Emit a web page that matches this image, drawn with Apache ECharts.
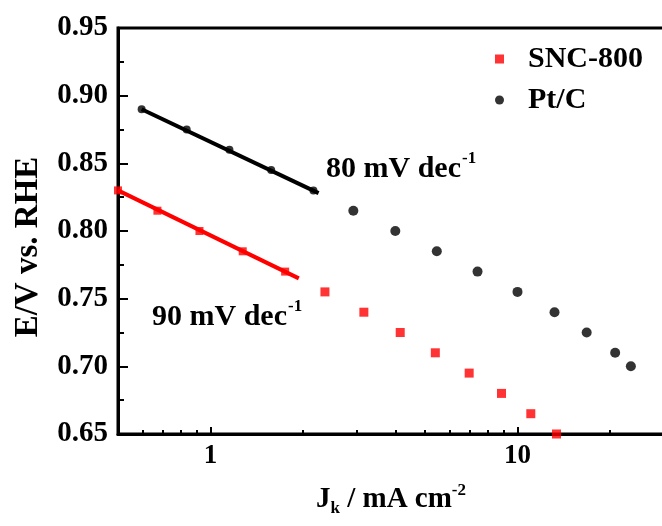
<!DOCTYPE html>
<html>
<head>
<meta charset="utf-8">
<script src="https://cdn.jsdelivr.net/npm/echarts@6/dist/echarts.min.js"></script>
<style>
  html, body { margin: 0; padding: 0; background: #fff; }
  #chart { width: 662px; height: 526px; }
</style>
</head>
<body>
<div id="chart"></div>
<script>
// tick values
const xMajorTicks = [1, 10];
const xMinorTicks = [0.6, 0.7, 0.8, 0.9, 2, 3, 4, 5, 6, 7, 8, 9, 20];

// SNC-800: points on the Tafel fit + remaining measured points
const sncFitJ = [0.50, 0.672, 0.921, 1.274, 1.751];
const sncFitE = [0.830, 0.815, 0.800, 0.785, 0.770];
const sncLineJ = [0.50, 1.94];
const sncLineE = [0.830, 0.765];
const sncJ = [2.36, 3.16, 4.15, 5.40, 6.96, 8.87, 11.05, 13.4];
const sncE = [0.755, 0.740, 0.725, 0.710, 0.695, 0.680, 0.665, 0.650];

// Pt/C
const ptFitJ = [0.597, 0.837, 1.153, 1.577, 2.165];
const ptFitE = [0.890, 0.875, 0.860, 0.845, 0.830];
const ptLineJ = [0.597, 2.25];
const ptLineE = [0.890, 0.828];
const ptJ = [2.92, 4.00, 5.46, 7.41, 10.0, 13.2, 16.8, 20.8, 23.4];
const ptE = [0.815, 0.800, 0.785, 0.770, 0.755, 0.740, 0.725, 0.710, 0.700];

const pairs = (xs, ys) => xs.map((x, i) => [x, ys[i]]);

const FONT = '"Liberation Serif", "Times New Roman", serif';
const RED = '#ff0000';

const chart = echarts.init(document.getElementById('chart'));

const option = {
  backgroundColor: '#fff',
  animation: false,
  grid: {
    left: 118, top: 28, right: -2, bottom: 92,
    outerBoundsMode: 'none',
    show: true, borderColor: '#000', borderWidth: 3, backgroundColor: 'transparent'
  },
  legend: {
    orient: 'vertical',
    left: 490, top: 39,
    itemWidth: 9, itemHeight: 9, itemGap: 11,
    data: ['SNC-800', 'Pt/C'],
    textStyle: {
      fontFamily: FONT, fontWeight: 'bold', fontSize: 30, color: '#000',
      lineHeight: 30, padding: [0, 0, 0, 19]
    }
  },
  xAxis: [
    {
      type: 'log', min: 0.5, max: 30,
      name: '{b|J}{sub|k}{b| / mA cm}{sup|-2}',
      nameLocation: 'middle', nameGap: 48,
      nameTextStyle: {
        rich: {
          b: { fontFamily: FONT, fontWeight: 'bold', fontSize: 29, color: '#000', lineHeight: 34 },
          sub: { fontFamily: FONT, fontWeight: 'bold', fontSize: 17, color: '#000', padding: [18, 0, 0, 0] },
          sup: { fontFamily: FONT, fontWeight: 'bold', fontSize: 17, color: '#000', padding: [0, 0, 18, 0] }
        }
      },
      axisLine: { show: true, lineStyle: { color: '#000', width: 3 } },
      axisTick: { show: true, inside: true, length: 7, customValues: xMajorTicks, lineStyle: { color: '#000', width: 2 } },
      axisLabel: {
        customValues: xMajorTicks, margin: 9,
        fontFamily: FONT, fontWeight: 'bold', fontSize: 27, color: '#000'
      },
      splitLine: { show: false }
    },
    {
      type: 'log', min: 0.5, max: 30, position: 'bottom',
      axisLine: { show: false },
      axisTick: { show: true, inside: true, length: 4, customValues: xMinorTicks, lineStyle: { color: '#000', width: 2 } },
      axisLabel: { show: false },
      splitLine: { show: false }
    }
  ],
  yAxis: {
    type: 'value', min: 0.65, max: 0.95, interval: 0.05,
    axisLine: { show: true, lineStyle: { color: '#000', width: 3 } },
    axisTick: { show: true, inside: true, length: 10, lineStyle: { color: '#000', width: 2 } },
    minorTick: { show: true, splitNumber: 2, length: 6, lineStyle: { color: '#000', width: 2 } },
    axisLabel: {
      margin: 10,
      formatter: v => v.toFixed(2),
      fontFamily: FONT, fontWeight: 'bold', fontSize: 29, color: '#000'
    },
    splitLine: { show: false }
  },
  graphic: [
    {
      type: 'text', x: 28, y: 247, rotation: Math.PI / 2,
      style: {
        text: 'E/V vs. RHE', textAlign: 'center', textVerticalAlign: 'middle',
        font: 'bold 33px ' + FONT, fill: '#000'
      }
    },
    {
      type: 'text', x: 326, y: 169,
      style: {
        text: '{a|80 mV dec}{s|-1}', textVerticalAlign: 'middle',
        rich: {
          a: { font: 'bold 30px ' + FONT, fill: '#000' },
          s: { font: 'bold 17px ' + FONT, fill: '#000', padding: [0, 0, 20, 1] }
        }
      }
    },
    {
      type: 'text', x: 152, y: 317,
      style: {
        text: '{a|90 mV dec}{s|-1}', textVerticalAlign: 'middle',
        rich: {
          a: { font: 'bold 30px ' + FONT, fill: '#000' },
          s: { font: 'bold 17px ' + FONT, fill: '#000', padding: [0, 0, 20, 1] }
        }
      }
    }
  ],
  series: [
    {
      name: 'SNC-fit', type: 'line', data: pairs(sncLineJ, sncLineE),
      showSymbol: false, lineStyle: { color: RED, width: 4 }, z: 3
    },
    {
      name: 'SNC-fit-pts', type: 'scatter', data: pairs(sncFitJ, sncFitE),
      symbol: 'rect', symbolSize: 8, itemStyle: { color: RED }, z: 4
    },
    {
      name: 'Pt-fit', type: 'line', data: pairs(ptLineJ, ptLineE),
      showSymbol: false, lineStyle: { color: '#000', width: 4 }, z: 3
    },
    {
      name: 'Pt-fit-pts', type: 'scatter', data: pairs(ptFitJ, ptFitE),
      symbol: 'circle', symbolSize: 8, itemStyle: { color: '#000' }, z: 4
    },
    {
      name: 'SNC-800', type: 'scatter', data: pairs(sncJ, sncE),
      symbol: 'rect', symbolSize: 9, itemStyle: { color: RED }, z: 4
    },
    {
      name: 'Pt/C', type: 'scatter', data: pairs(ptJ, ptE),
      symbol: 'circle', symbolSize: 10, itemStyle: { color: '#000' }, z: 4
    }
  ]
};

chart.setOption(option);
</script>
</body>
</html>
